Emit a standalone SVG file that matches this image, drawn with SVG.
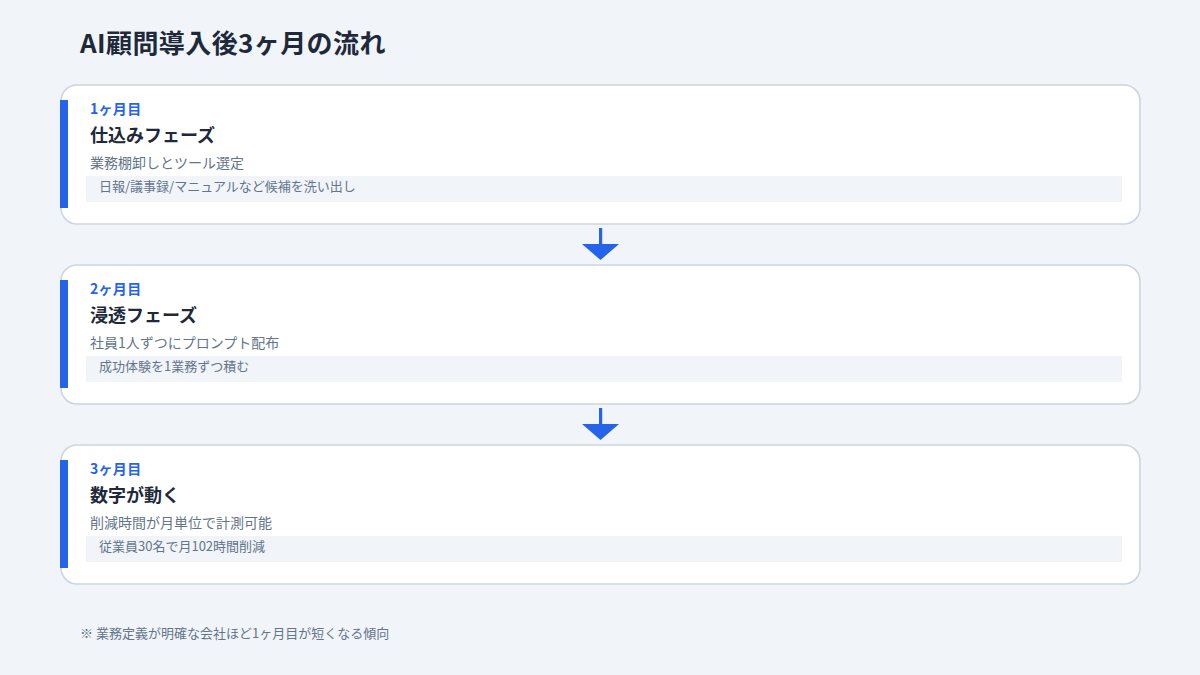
<svg xmlns="http://www.w3.org/2000/svg" width="1200" height="675" viewBox="0 0 1200 675">
<style>
text{font-family:"Noto Sans CJK JP","Noto Sans",sans-serif}
.card{fill:#ffffff;stroke:#cbd5e1;stroke-width:1.6}
.accent{fill:#2563eb}
.sub{fill:#f1f5f9}
.lbl{font-size:14px;font-weight:700;fill:#2563eb;letter-spacing:0.3px}
.ttl{font-size:18px;font-weight:700;fill:#1e293b}
.dsc{font-size:14px;fill:#64748b}
.sbt{font-size:13px;fill:#64748b}
.arr{fill:#2563eb}
</style>
<rect width="1200" height="675" fill="#f1f5f9"/>
<text x="80" y="53" style="font-size:26px;font-weight:700;fill:#1e293b;letter-spacing:0.4px">AI顧問導入後3ヶ月の流れ</text>
<g id="connectors">
<rect class="arr" x="599" y="228" width="3.2" height="17"/>
<polygon class="arr" points="582,244 619,244 600.5,260"/>
<rect class="arr" x="599" y="408" width="3.2" height="17"/>
<polygon class="arr" points="582,424 619,424 600.5,440"/>
</g>
<g id="phase1">
<rect class="card" x="61" y="85" width="1079" height="139" rx="16"/>
<rect class="accent" x="60" y="100" width="8" height="108"/>
<text class="lbl" x="90" y="114">1ヶ月目</text>
<text class="ttl" x="90" y="142">仕込みフェーズ</text>
<text class="dsc" x="90" y="168">業務棚卸しとツール選定</text>
<rect class="sub" x="86" y="176" width="1036" height="26"/>
<text class="sbt" x="99" y="191">日報/議事録/マニュアルなど候補を洗い出し</text>
</g>
<g id="phase2">
<rect class="card" x="61" y="265" width="1079" height="139" rx="16"/>
<rect class="accent" x="60" y="280" width="8" height="108"/>
<text class="lbl" x="90" y="294">2ヶ月目</text>
<text class="ttl" x="90" y="322">浸透フェーズ</text>
<text class="dsc" x="90" y="348">社員1人ずつにプロンプト配布</text>
<rect class="sub" x="86" y="356" width="1036" height="26"/>
<text class="sbt" x="99" y="371">成功体験を1業務ずつ積む</text>
</g>
<g id="phase3">
<rect class="card" x="61" y="445" width="1079" height="139" rx="16"/>
<rect class="accent" x="60" y="460" width="8" height="108"/>
<text class="lbl" x="90" y="474">3ヶ月目</text>
<text class="ttl" x="90" y="502">数字が動く</text>
<text class="dsc" x="90" y="528">削減時間が月単位で計測可能</text>
<rect class="sub" x="86" y="536" width="1036" height="26"/>
<text class="sbt" x="99" y="551">従業員30名で月102時間削減</text>
</g>
<text x="80" y="638" style="font-size:13px;fill:#64748b">※ 業務定義が明確な会社ほど1ヶ月目が短くなる傾向</text>
</svg>
